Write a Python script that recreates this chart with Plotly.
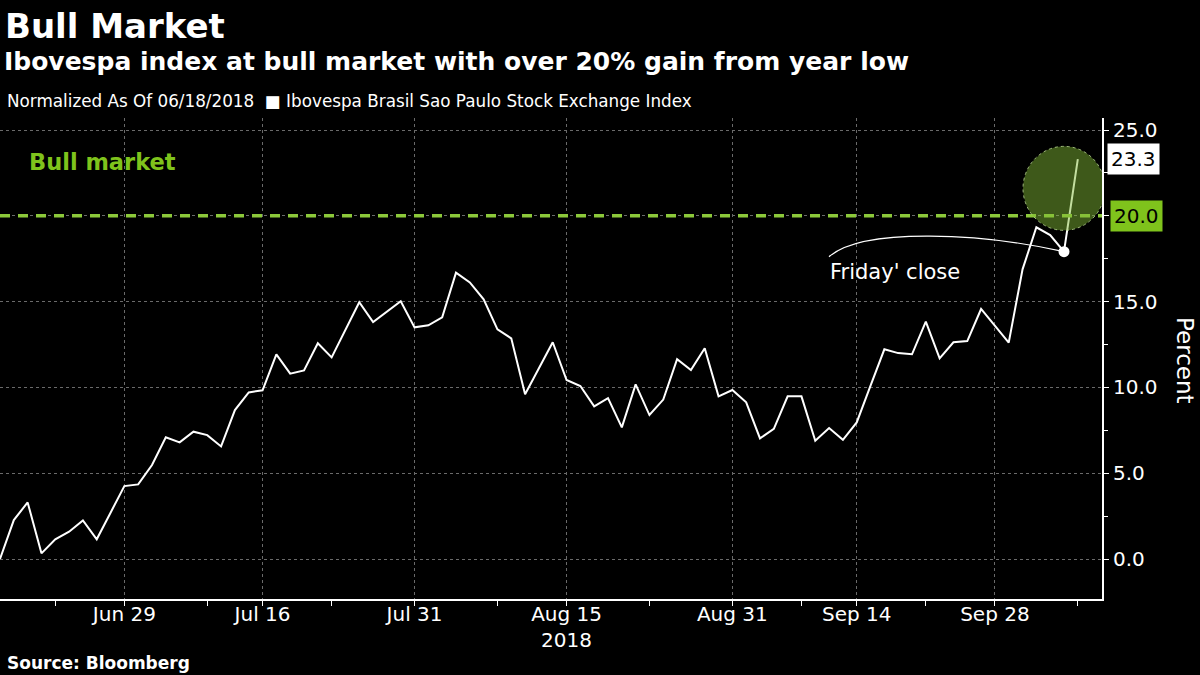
import pandas as pd
import plotly.graph_objects as go

# Ibovespa, % change normalized to 06/18/2018 (trading days only)
holidays = ["2018-07-09", "2018-09-07"]
dates = [d for d in pd.bdate_range("2018-06-18", "2018-10-08") if d.strftime("%Y-%m-%d") not in holidays]

jun = [0.0, 2.27, 3.30, 0.33, 1.15, 1.59, 2.25, 1.15, 2.70, 4.25]
jul = [4.35, 5.48, 7.09, 6.80, 7.42, 7.22, 6.56, 8.68, 9.71, 9.83, 11.93,
       10.80, 10.99, 12.57, 11.75, 13.35, 14.96, 13.81, 14.41, 15.02, 13.50]
aug = [13.62, 14.08, 16.69, 16.12, 15.13, 13.38, 12.86, 9.60, 11.11, 12.63, 10.43,
       10.08, 8.90, 9.38, 7.67, 10.18, 8.39, 9.29, 11.65, 11.01, 12.28, 9.48, 9.85]
sep = [9.13, 7.03, 7.58, 9.48, 9.48, 6.89, 7.63, 6.95, 7.96, 10.10, 12.22,
       12.00, 11.93, 13.83, 11.69, 12.63, 12.70, 14.57, 13.60]
oct_ = [12.61, 16.88, 19.33, 18.88, 17.91, 23.3]
values = jun + jul + aug + sep + oct_

bull_level = 20.0
friday = "2018-10-05"
friday_value = oct_[-2]

tick_dates = ["2018-06-29", "2018-07-16", "2018-07-31", "2018-08-15",
              "2018-08-31", "2018-09-14", "2018-09-28"]
tick_labels = ["Jun 29", "Jul 16", "Jul 31", "Aug 15<br>2018", "Aug 31", "Sep 14", "Sep 28"]
minor_dates = ["2018-06-22", "2018-07-10", "2018-07-23", "2018-08-08",
               "2018-08-23", "2018-09-10", "2018-09-21", "2018-10-08"]

LIME = "#7fc31c"
FONT = "DejaVu Sans"
GRID = "#6a6a6a"


def py(pixel_y):
    # page pixel -> paper y (plot area spans 118..599)
    return (599 - pixel_y) / 481


fig = go.Figure()

fig.add_trace(go.Scatter(
    x=dates, y=values, mode="lines",
    line=dict(color="white", width=2),
    hoverinfo="skip", showlegend=False,
))
fig.add_trace(go.Scatter(
    x=[friday], y=[friday_value], mode="markers",
    marker=dict(color="white", size=11),
    hoverinfo="skip", showlegend=False,
))

# bull market threshold
fig.add_shape(type="line", xref="paper", x0=0, x1=1, yref="y", y0=bull_level, y1=bull_level,
              line=dict(color="#8cc83a", width=3.5, dash="10px,8px"))

# highlight circle around the last move
fig.add_shape(type="circle", xref="x", yref="y", xsizemode="pixel", ysizemode="pixel",
              xanchor=friday, yanchor=21.6, x0=-41, x1=41, y0=-42, y1=42,
              fillcolor="rgba(130,185,55,0.48)",
              line=dict(color="rgba(190,220,150,0.8)", width=1, dash="dot"))

# curved pointer to Friday's close
fig.add_shape(type="path", xref="x", yref="y", xsizemode="pixel", ysizemode="pixel",
              xanchor=friday, yanchor=friday_value,
              path="M -235,-5 C -200,25 -80,18 0,0",
              line=dict(color="white", width=1.2))

fig.add_annotation(x=friday, y=friday_value, xref="x", yref="y",
                   text="Friday' close", showarrow=False,
                   xanchor="left", yanchor="middle", xshift=-236, yshift=-20,
                   font=dict(family=FONT, size=21, color="white"))

# right-side value tags
fig.add_annotation(xref="paper", x=1, yref="y", y=values[-1], text=f"{values[-1]:.1f}",
                   showarrow=False, xanchor="left", xshift=5, bgcolor="white",
                   font=dict(family=FONT, size=20, color="black"), borderpad=3)
fig.add_annotation(xref="paper", x=1, yref="y", y=bull_level, text=f"{bull_level:.1f}",
                   showarrow=False, xanchor="left", xshift=8, bgcolor=LIME,
                   font=dict(family=FONT, size=20, color="black"), borderpad=3)

fig.add_annotation(xref="paper", x=0, xshift=27, yref="paper", y=py(162), text="<b>Bull market</b>",
                   showarrow=False, xanchor="left", yanchor="middle",
                   font=dict(family=FONT, size=22.5, color=LIME))

# titles
fig.add_annotation(xref="paper", x=0, xshift=3, yref="paper", y=py(26), text="<b>Bull Market</b>",
                   showarrow=False, xanchor="left", yanchor="middle",
                   font=dict(family=FONT, size=34, color="white"))
fig.add_annotation(xref="paper", x=0, xshift=2, yref="paper", y=py(61),
                   text="<b>Ibovespa index at bull market with over 20% gain from year low</b>",
                   showarrow=False, xanchor="left", yanchor="middle",
                   font=dict(family=FONT, size=25, color="white"))
fig.add_annotation(xref="paper", x=0, xshift=5, yref="paper", y=py(101),
                   text="Normalized As Of 06/18/2018  \u25a0 Ibovespa Brasil Sao Paulo Stock Exchange Index",
                   showarrow=False, xanchor="left", yanchor="middle",
                   font=dict(family=FONT, size=16.8, color="white"))
fig.add_annotation(xref="paper", x=0, xshift=5, yref="paper", y=py(663),
                   text="<b>Source: Bloomberg</b>",
                   showarrow=False, xanchor="left", yanchor="middle",
                   font=dict(family=FONT, size=17, color="white"))
fig.add_annotation(xref="paper", x=1, xshift=83, yref="paper", y=py(360),
                   text="Percent", textangle=90,
                   showarrow=False, xanchor="center", yanchor="middle",
                   font=dict(family=FONT, size=23, color="white"))

fig.update_xaxes(
    type="date",
    range=["2018-06-18", "2018-10-09 18:00"],
    rangebreaks=[dict(bounds=["sat", "mon"]), dict(values=holidays)],
    tickmode="array", tickvals=tick_dates, ticktext=tick_labels,
    ticks="outside", ticklen=5, tickcolor="white", ticklabelstandoff=-9,
    showgrid=True, gridcolor=GRID, griddash="dot", gridwidth=1,
    showline=True, linecolor="white", linewidth=2,
    minor=dict(tickmode="array", tickvals=minor_dates, ticks="outside",
               ticklen=5, tickcolor="white", showgrid=False),
    tickfont=dict(family=FONT, size=20, color="white"),
    zeroline=False,
)
fig.update_yaxes(
    side="right", range=[-2.33, 25.7],
    tick0=0, dtick=5, tickformat=".1f",
    ticks="outside", ticklen=5, tickcolor="white",
    minor=dict(dtick=2.5, ticks="outside", ticklen=4, tickcolor="white", showgrid=False),
    showgrid=True, gridcolor=GRID, griddash="dot", gridwidth=1,
    showline=True, linecolor="white", linewidth=2,
    tickfont=dict(family=FONT, size=20, color="white"),
    zeroline=False,
)

fig.update_layout(
    width=1200, height=675,
    paper_bgcolor="black", plot_bgcolor="black",
    margin=dict(l=0, r=98, t=118, b=76),
    showlegend=False,
)

# page body has a default 8px margin; drop it so the figure fills the window
fig.write_html("out.html", config={"displayModeBar": False},
               post_script="document.body.style.margin='0';")
